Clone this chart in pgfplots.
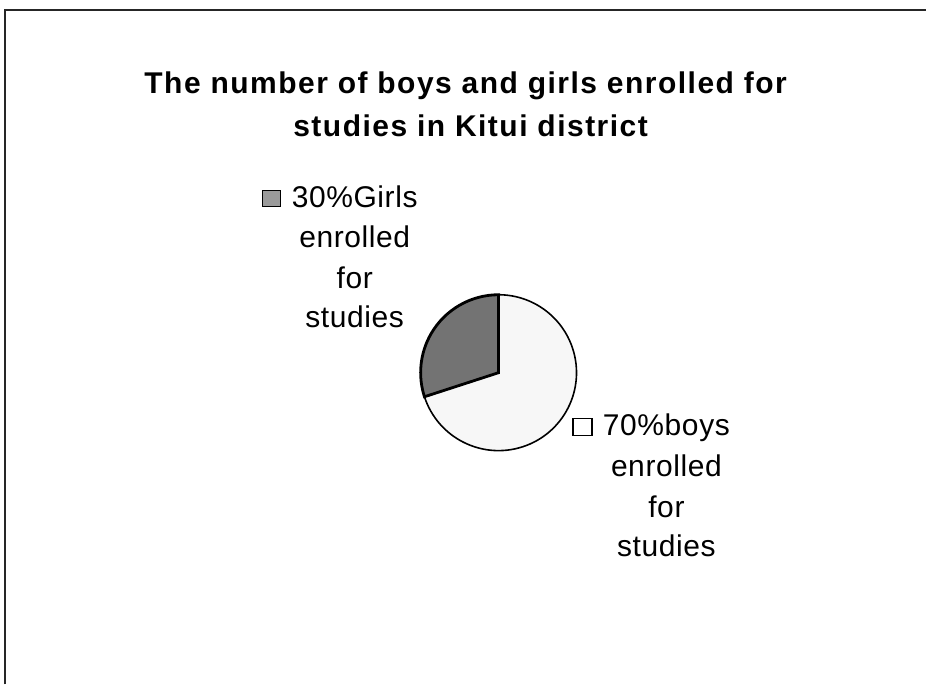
\documentclass[border=0pt]{standalone}
\usepackage{pgfplots}
\pgfplotsset{compat=1.18}
\usepackage{fontspec}
\setmainfont{Liberation Sans}
\definecolor{girlsc}{HTML}{737373}
\definecolor{boysc}{HTML}{F7F7F7}
\definecolor{girlsmark}{HTML}{9A9A9A}
\begin{document}
\begin{tikzpicture}
\def\girls{30}
\def\boys{70}
\pgfmathsetmacro{\ga}{90}
\pgfmathsetmacro{\gb}{90+3.6*\girls}
\pgfmathsetmacro{\bb}{\gb+3.6*\boys}
\begin{axis}[x=0.5pt,y=0.5pt,xmin=0,xmax=927,ymin=0,ymax=685,
  hide axis, clip=false]
\addplot[draw=none] coordinates {(0,0) (927,685)};
\path (axis cs:0,0) rectangle (axis cs:927,685);
% frame (top and left edges)
\draw[black!85, line width=0.8pt] (axis cs:5,0) -- (axis cs:5,675) -- (axis cs:927,675);
% boys wedge
\filldraw[fill=boysc, draw=black, line width=0.8pt] (axis cs:499,312) -- ++(\gb:39pt) arc[start angle=\gb, end angle=\bb, radius=39pt] -- cycle;
% girls wedge
\filldraw[fill=girlsc, draw=black, line width=1.4pt] (axis cs:499,312) -- ++(\ga:39pt) arc[start angle=\ga, end angle=\gb, radius=39pt] -- cycle;
% title
\begin{scope}[every node/.style={font=\fontsize{15}{17}\selectfont\bfseries\addfontfeatures{LetterSpace=5}, anchor=base}]
\node at (axis cs:466,591) {The number of boys and girls enrolled for};
\node at (axis cs:471,548) {studies in Kitui district};
\end{scope}
% legend entries
\node[draw=black, fill=girlsmark, minimum width=9pt, minimum height=8pt, inner sep=0pt, line width=0.6pt] at (axis cs:272,486) {};
\node[draw=black, fill=white, minimum width=9.5pt, minimum height=8.5pt, inner sep=0pt, line width=0.6pt] at (axis cs:583,258) {};
\begin{scope}[every node/.style={font=\fontsize{15}{17}\selectfont\addfontfeatures{LetterSpace=2}, anchor=base}]
\node at (axis cs:355,477) {30\%Girls};
\node at (axis cs:355,437) {enrolled};
\node at (axis cs:355,396) {for};
\node at (axis cs:355,357) {studies};
\node at (axis cs:667,249) {70\%boys};
\node at (axis cs:667,208) {enrolled};
\node at (axis cs:667,167) {for};
\node at (axis cs:667,128) {studies};
\end{scope}
\end{axis}
\end{tikzpicture}
\end{document}
